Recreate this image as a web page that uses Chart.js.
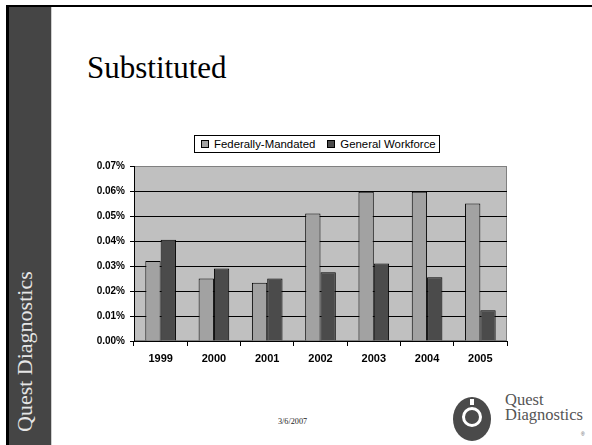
<!DOCTYPE html>
<html>
<head>
<meta charset="utf-8">
<script src="https://cdn.jsdelivr.net/npm/chart.js@4"></script>
<style>
  html, body { margin: 0; padding: 0; background: #fff; }
  body { width: 592px; height: 445px; position: relative; overflow: hidden; }
  .topline { position: absolute; left: 6px; top: 5px; width: 586px; height: 2px; background: #000; }
  .band { position: absolute; left: 6px; top: 5px; width: 3px; height: 440px; background: #000; }
  .band2 { position: absolute; left: 9px; top: 7px; width: 42px; height: 438px; background: #454545; border-right: 1px solid #cfcfcf; }
  .vtext { position: absolute; left: 14px; top: 432px; transform-origin: 0 0; transform: rotate(-90deg);
           font: 22px "Liberation Serif", "Times New Roman", serif; color: #e6e6e6; white-space: nowrap; line-height: 22px; }
  h1 { position: absolute; left: 87px; top: 52px; margin: 0; font: 31px "Liberation Serif", "Times New Roman", serif; font-weight: normal; color: #000; line-height: 1; }
  #chartWrap { position: absolute; left: 60px; top: 155px; width: 470px; height: 215px; }
  #legend { position: absolute; left: 194px; top: 135px; height: 18px; border: 1px solid #000; background: #fff; white-space: nowrap;
            font: 11.4px "Liberation Sans", Arial, sans-serif; display: flex; align-items: center; padding: 0 0 0 6px; box-sizing: border-box; width: 246px; }
  #legend span.box { display: inline-block; flex-shrink: 0; width: 6px; height: 6px; border: 1px solid #000; margin-right: 5px; }
  #legend span.item { display: inline-flex; flex-shrink: 0; align-items: center; margin-right: 12px; white-space: nowrap; }
  #legend span.item:last-child { margin-right: 0; }
  .date { position: absolute; left: 278px; top: 417px; font: 8.2px "Liberation Serif", "Times New Roman", serif; color: #222; }
  .logo { position: absolute; left: 453px; top: 397px; width: 38px; height: 44px; border-radius: 50%; background: #4a4a4a; overflow: hidden; }
  .logo .sun { position: absolute; left: 9px; top: 10px; width: 20px; height: 20px; border-radius: 50%; border: 3px solid #fff; box-sizing: border-box; }
  .logo .ray { position: absolute; left: 17px; top: 2px; width: 4px; height: 6px; background: #fff; }
  .logoText { position: absolute; left: 505px; top: 392px; font: 16.5px "Liberation Serif", "Times New Roman", serif; color: #555; line-height: 15px; }
  .reg { position: absolute; left: 581px; top: 431px; font: 5px sans-serif; color: #555; }
</style>
</head>
<body>
<div class="topline"></div>
<div class="band"></div>
<div class="band2"></div>
<div class="vtext">Quest Diagnostics</div>
<h1>Substituted</h1>
<div id="legend"></div>
<div id="chartWrap"><canvas id="chart" width="470" height="215"></canvas></div>
<div class="date">3/6/2007</div>
<div class="logo"><div class="ray"></div><div class="sun"></div></div>
<div class="logoText">Quest<br>Diagnostics</div>
<div class="reg">®</div>

<script>
  // ---------- Datos ----------
  const years = ['1999', '2000', '2001', '2002', '2003', '2004', '2005'];
  const federallyMandated = [0.032, 0.025, 0.0233, 0.051, 0.0597, 0.0597, 0.055];
  const generalWorkforce  = [0.0405, 0.029, 0.025, 0.0275, 0.031, 0.0255, 0.0123];
  const seriesNames = ['Federally-Mandated', 'General Workforce'];
  const seriesColors = ['#a2a2a2', '#4b4b4b'];
  const yTicks = [0, 0.01, 0.02, 0.03, 0.04, 0.05, 0.06, 0.07];

  // ---------- Leyenda ----------
  const legend = document.getElementById('legend');
  seriesNames.forEach((name, i) => {
    const item = document.createElement('span');
    item.className = 'item';
    const box = document.createElement('span');
    box.className = 'box';
    box.style.background = seriesColors[i];
    item.appendChild(box);
    item.appendChild(document.createTextNode(name));
    legend.appendChild(item);
  });

  // fondo gris del área del gráfico
  const plotBg = {
    id: 'plotBg',
    beforeDraw(chart) {
      const { ctx, chartArea: a } = chart;
      ctx.save();
      ctx.fillStyle = '#c0c0c0';
      ctx.fillRect(a.left, a.top, a.right - a.left, a.bottom - a.top);
      ctx.strokeStyle = '#808080';
      ctx.lineWidth = 1;
      ctx.strokeRect(a.left + 0.5, a.top + 0.5, a.right - a.left - 1, a.bottom - a.top - 1);
      ctx.restore();
    }
  };

  const barStyle = { borderColor: '#000', borderWidth: 1, borderSkipped: 'bottom', barPercentage: 1, categoryPercentage: 0.575 };

  new Chart(document.getElementById('chart'), {
    type: 'bar',
    data: {
      labels: years,
      datasets: [
        { label: seriesNames[0], data: federallyMandated, backgroundColor: seriesColors[0], ...barStyle },
        { label: seriesNames[1], data: generalWorkforce, backgroundColor: seriesColors[1], ...barStyle }
      ]
    },
    options: {
      responsive: false,
      animation: false,
      devicePixelRatio: 1,
      layout: { padding: { top: 9, right: 23, left: 0, bottom: 0 } },
      plugins: {
        legend: { display: false },
        tooltip: { enabled: false }
      },
      scales: {
        x: {
          afterFit: (s) => { s.height = 29; },
          grid: { offset: true, drawOnChartArea: false, drawTicks: true, tickLength: 5, color: '#000' },
          border: { display: true, color: '#000', width: 1 },
          ticks: { color: '#000', padding: 6, font: { family: 'Liberation Sans, Arial', size: 11, weight: 'bold' } }
        },
        y: {
          min: 0,
          max: 0.07,
          afterFit: (s) => { s.width = 74; },
          afterBuildTicks: (s) => { s.ticks = yTicks.map(v => ({ value: v })); },
          grid: {
            color: (c) => (c.tick && c.tick.value >= 0.07 ? '#808080' : '#000'),
            tickColor: '#000',
            tickLength: 4,
            lineWidth: 1
          },
          border: { display: true, color: '#000', width: 1 },
          ticks: {
            color: '#000',
            padding: 5,
            font: { family: 'Liberation Sans, Arial', size: 10, weight: 'bold' },
            callback: (v) => v.toFixed(2) + '%'
          }
        }
      }
    },
    plugins: [plotBg]
  });
</script>
</body>
</html>
